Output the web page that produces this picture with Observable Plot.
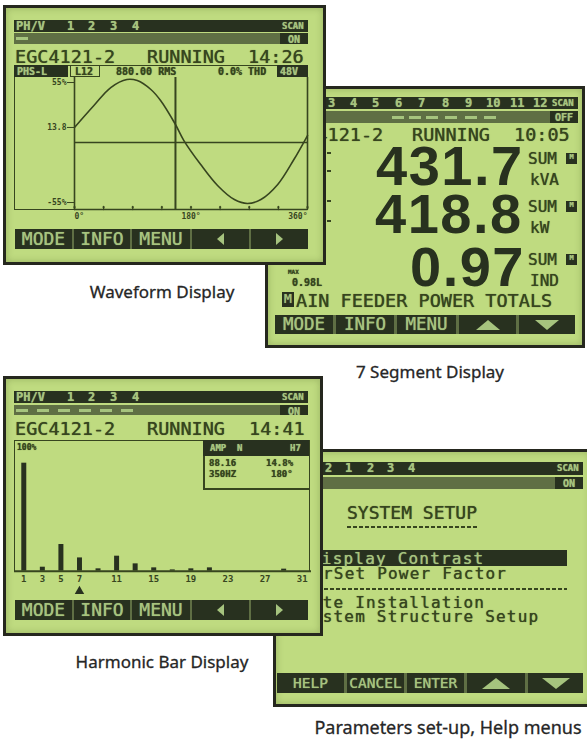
<!DOCTYPE html>
<html><head><meta charset="utf-8">
<script src="https://cdn.jsdelivr.net/npm/d3@7"></script>
<script src="https://cdn.jsdelivr.net/npm/@observablehq/plot@0.6"></script>
<style>
html,body{margin:0;padding:0;background:#fff;}
#root{position:relative;width:587px;height:740px;overflow:hidden;background:#fff;}
.p{position:absolute;overflow:hidden;}
.cap{position:absolute;font-family:"Noto Sans",sans-serif;font-size:17px;color:#262626;white-space:nowrap;transform:translateX(-50%);line-height:1;-webkit-text-stroke:0.3px #262626;}
</style></head><body><div id="root"></div>
<script>
// ---------- data ----------
const waveDeg = [0, 30, 56, 81, 97, 118, 133, 156, 169, 195, 221, 247, 267, 288, 314, 339, 360];
const waveVal = [13.8, 33.9, 50.4, 57.8, 56.8, 48.6, 38.5, 16.5, 1.8, -20.2, -39.4, -52.3, -55.9, -52.3, -38.5, -15.6, 6.4];
const waveYDomain = [-61.4, 59.6];
const waveYTicks = [55, 13.8, -55];
const waveYLabels = ["55%", "13.8", "-55%"];
const waveXTicks = [0, 45, 90, 135, 180, 225, 270, 315, 360];
const waveXLabelTicks = [0, 180, 360];
const waveCursor = 156;

const harmOrder = [1, 3, 5, 7, 9, 11, 13, 15, 17, 19, 21, 23, 25, 27, 29, 31];
const harmPct   = [100, 3.7, 24.7, 12.3, 2.2, 13.9, 6.8, 3.1, 1.2, 2.2, 3.1, 0, 0, 0, 1.9, 0];
const harmDomainX = [0, 32];
const harmDomainY = [0, 121];
const harmTicks = [1, 3, 5, 7, 11, 15, 19, 23, 27, 31];
const harmCursor = 7;

const segValues = ["431.7", "418.8", "0.97"];
const segUnits = ["kVA", "kW", "IND"];
const btnMain = ["MODE", "INFO", "MENU", "◀", "▶"];
const btnSeg = ["MODE", "INFO", "MENU", "▲", "▼"];
const btnSetup = ["HELP", "CANCEL", "ENTER", "▲", "▼"];
const setupItems = ["Display Contrast", "rSet Power Factor", "Site Installation", "System Structure Setup"];
const captions = ["Waveform Display", "7 Segment Display", "Harmonic Bar Display", "Parameters set-up, Help menus"];

// ---------- style ----------
const LCD = "#bfdb80", INK = "#37451f", DARK = "#28311f", MID = "#5f6f44", LITE = "#a6c47e", EDGE = "#25271e";
const MONO = '"DejaVu Sans Mono", monospace';
const root = document.getElementById("root");

function panel(x, y, w, h) {
  const d = document.createElement("div");
  d.className = "p";
  d.style.cssText += `left:${x}px;top:${y}px;width:${w}px;height:${h}px;background:${LCD};box-shadow:inset 0 0 0 3px ${EDGE}, inset 0 0 6px 4px rgba(70,90,30,0.25);`;
  root.appendChild(d); d._x = x; d._y = y; return d;
}
function mk(p, x, y, css) {
  const d = document.createElement("div");
  d.style.cssText = `position:absolute;left:${x - p._x}px;top:${y - p._y}px;` + css;
  p.appendChild(d); return d;
}
function rect(p, x, y, w, h, bg, css = "") { return mk(p, x, y, `width:${w}px;height:${h}px;background:${bg};` + css); }
// text placed by its cap-top (line-height 0.75 puts the cap top at the box top)
function txt(p, x, cap, s, size, color, css = "") {
  const d = mk(p, x, cap, `font-family:${MONO};font-size:${size}px;line-height:0.75;color:${color};white-space:pre;text-shadow:0 0 0.8px ${color};` + css);
  d.textContent = s; return d;
}
function ctxt(p, x, w, cap, s, size, color, css = "") { return txt(p, x, cap, s, size, color, `width:${w}px;text-align:center;` + css); }
function tri(p, cx, cy, dir, bw, bh, color) {
  let css = "width:0;height:0;";
  if (dir === "up") css += `border-left:${bw/2}px solid transparent;border-right:${bw/2}px solid transparent;border-bottom:${bh}px solid ${color};`;
  if (dir === "down") css += `border-left:${bw/2}px solid transparent;border-right:${bw/2}px solid transparent;border-top:${bh}px solid ${color};`;
  if (dir === "left") css += `border-top:${bh/2}px solid transparent;border-bottom:${bh/2}px solid transparent;border-right:${bw}px solid ${color};`;
  if (dir === "right") css += `border-top:${bh/2}px solid transparent;border-bottom:${bh/2}px solid transparent;border-left:${bw}px solid ${color};`;
  return mk(p, cx - bw/2, cy - bh/2, css);
}
function buttons(p, cells, y, h, labels, size, triW, triH) {
  rect(p, cells[0][0], y, cells[cells.length-1][1] - cells[0][0], h, MID);
  cells.forEach(([a, b], i) => {
    rect(p, a, y, b - a, h, DARK);
    const L = labels[i], cx = (a + b) / 2, cy = y + h / 2;
    if (L === "◀") tri(p, cx, cy, "left", triW, triH, LITE);
    else if (L === "▶") tri(p, cx, cy, "right", triW, triH, LITE);
    else if (L === "▲") tri(p, cx, cy, "up", triW, triH, LITE);
    else if (L === "▼") tri(p, cx, cy, "down", triW, triH, LITE);
    else ctxt(p, a, b - a, y + (h - size * 0.73) / 2, L, size, LITE);
  });
}
function dashLine(p, x, y, w) {
  rect(p, x, y, w, 2, "transparent", `background:repeating-linear-gradient(90deg, ${INK} 0 4px, transparent 4px 6px);`);
}
function statusBar(p, x0, x1, r1, r2, nums, scan, on, dashes) {
  rect(p, x0, r1[0], x1 - x0, r1[1] - r1[0], DARK);
  rect(p, x0, r2[0], x1 - x0, r2[1] - r2[0], MID);
  nums.forEach(([nx, s]) => txt(p, nx, r1[0] + 2, s, 12, LITE, "font-weight:bold;"));
  txt(p, x1 - 26, r1[0] + 3, scan, 9, LITE, "font-weight:bold;");
  rect(p, x1 - 28, r2[0], 28, r2[1] - r2[0], DARK);
  ctxt(p, x1 - 28, 28, r2[0] + 2.5, on, 10, LITE, "font-weight:bold;");
  dashes.forEach(([dx, dw]) => rect(p, dx, r2[0] + (r2[1] - r2[0]) / 2 - 1.5, dw, 3, LITE));
}

// ---------- Panel 2: 7 segment (behind panel 1) ----------
const P2 = panel(265, 86, 320, 262);
statusBar(P2, 268, 578, [97, 109], [111, 123],
  [[270, "V"], [282, "1"], [305, "2"], [328, "3"], [350, "4"], [372, "5"], [395, "6"], [418, "7"], [442, "8"], [465, "9"], [486, "10"], [510, "11"], [533, "12"]],
  "SCAN", "OFF", [[392, 12], [409, 12], [426, 12], [445, 12], [465, 12], [484, 12]]);
txt(P2, 283, 128, "EGC4121-2", 18.5, INK);
txt(P2, 412, 128, "RUNNING", 18.5, INK);
txt(P2, 514, 128, "10:05", 18.5, INK);
[152, 170, 200, 220].forEach(yy => rect(P2, 327, yy, 4, 2, INK));
const segTops = [145, 193, 246];
const segLefts = [376, 375, 410];
segValues.forEach((v, i) => {
  const d = mk(P2, segLefts[i], segTops[i], `font-family:"Liberation Sans",Arial,sans-serif;font-weight:bold;font-size:56px;line-height:0.75;color:${DARK};letter-spacing:1.5px;white-space:pre;`);
  d.textContent = v;
  txt(P2, 528, segTops[i] + 8, "SUM", 16, INK);
  rect(P2, 566, segTops[i] + 8, 11, 11, DARK);
  ctxt(P2, 566, 11, segTops[i] + 10, "M", 7, LITE, "font-weight:bold;");
  txt(P2, 530, segTops[i] + 29, segUnits[i], 16, INK);
});
txt(P2, 288, 270, "MAX", 6, INK, "font-weight:bold;");
txt(P2, 292, 279, "0.98L", 10, INK, "font-weight:bold;");
rect(P2, 282, 292, 12, 15, DARK);
ctxt(P2, 282, 12, 294, "M", 13, LITE);
txt(P2, 296, 294, "AIN FEEDER POWER TOTALS", 18.5, INK);
buttons(P2, [[275, 333], [336, 394], [397, 456], [459, 516], [519, 575]], 315, 19, btnSeg, 17.5, 24, 10);

// ---------- Panel 1: waveform ----------
const P1 = panel(3, 5, 323, 260);
statusBar(P1, 14, 308, [20, 32], [33, 44],
  [[16, "PH/V"], [67, "1"], [88, "2"], [110, "3"], [132, "4"]], "SCAN", "ON", [[16, 12]]);
txt(P1, 15, 50, "EGC4121-2", 18.5, INK);
txt(P1, 147, 50, "RUNNING", 18.5, INK);
txt(P1, 248, 50, "14:26", 18.5, INK);
rect(P1, 14, 65, 294, 145, "transparent", `box-sizing:border-box;border:1.5px solid ${INK};`);
rect(P1, 14, 65, 54, 12, DARK);
txt(P1, 17, 67.5, "PHS-L", 10, LITE, "font-weight:bold;");
rect(P1, 70, 65, 30, 12, "transparent", `box-sizing:border-box;border:1.5px solid ${INK};`);
txt(P1, 75, 67.5, "L12", 10, INK, "font-weight:bold;");
txt(P1, 116, 67.5, "880.00 RMS", 10, INK, "font-weight:bold;");
txt(P1, 218, 67.5, "0.0% THD", 10, INK, "font-weight:bold;");
rect(P1, 277, 65, 31, 12, DARK);
txt(P1, 280, 67.5, "48V", 10, LITE, "font-weight:bold;");

const wave = waveDeg.map((d, i) => ({deg: d, v: waveVal[i]}));
const yLab = new Map(waveYTicks.map((t, i) => [t, waveYLabels[i]]));
const wavePlot = Plot.plot({
  width: 296, height: 149,
  marginLeft: 60, marginRight: 3, marginTop: 0, marginBottom: 17,
  x: {domain: [0, 360], label: null},
  y: {domain: waveYDomain, label: null},
  style: {background: "transparent", color: INK, fontFamily: MONO, fontSize: "8px", fontWeight: "bold", overflow: "visible"},
  marks: [
    Plot.ruleY([0], {stroke: INK, strokeWidth: 1.3}),
    Plot.ruleY([waveYDomain[0]], {stroke: INK, strokeWidth: 1.5}),
    Plot.ruleX([0, 360], {stroke: INK, strokeWidth: 1.6}),
    Plot.ruleX([waveCursor], {stroke: INK, strokeWidth: 2}),
    Plot.vector(waveXTicks, {x: d => d, y: waveYDomain[0], length: 3, rotate: 0, anchor: "start", stroke: INK, strokeWidth: 1.3}),
    Plot.axisY(waveYTicks, {anchor: "left", label: null, tickSize: 7, tickPadding: 1, tickFormat: d => yLab.get(d), stroke: INK, fill: INK}),
    Plot.axisX([waveXLabelTicks[0]], {anchor: "bottom", label: null, tickSize: 0, tickPadding: 4, textAnchor: "start", tickFormat: d => d + "°", fill: INK}),
    Plot.axisX([waveXLabelTicks[1]], {anchor: "bottom", label: null, tickSize: 0, tickPadding: 4, textAnchor: "middle", tickFormat: d => d + "°", fill: INK}),
    Plot.axisX([waveXLabelTicks[2]], {anchor: "bottom", label: null, tickSize: 0, tickPadding: 4, textAnchor: "end", tickFormat: d => d + "°", fill: INK}),
    Plot.line(wave, {x: "deg", y: "v", curve: "catmull-rom", stroke: INK, strokeWidth: 1.6})
  ]
});
const w1 = mk(P1, 14, 77, "width:296px;height:149px;");
w1.appendChild(wavePlot);
buttons(P1, [[15, 72], [74, 130], [132, 190], [192, 249], [251, 308]], 229, 20, btnMain, 18, 7, 12);

// ---------- Panel 4: setup (behind panel 3) ----------
const P4 = panel(273, 449, 320, 258);
statusBar(P4, 277, 583, [462, 475], [477, 489],
  [[303, "V"], [325, "2"], [345, "1"], [367, "2"], [387, "3"], [408, "4"]], "SCAN", "ON", []);
txt(P4, 347, 506, "SYSTEM SETUP", 18, INK);
dashLine(P4, 347, 526, 131);
rect(P4, 300, 550, 267, 16, DARK);
const MENU_CSS = "letter-spacing:1.2px;";
txt(P4, 311, 553, setupItems[0], 16, LITE, MENU_CSS);
txt(P4, 323, 568, setupItems[1], 16, INK, MENU_CSS);
dashLine(P4, 300, 588, 267);
txt(P4, 301, 597, setupItems[2], 16, INK, MENU_CSS);
txt(P4, 301, 611, setupItems[3], 16, INK, MENU_CSS);
buttons(P4, [[277, 344], [347, 404], [407, 464], [467, 525], [528, 583]], 673, 20, btnSetup, 14.5, 28, 11);

// ---------- Panel 3: harmonic bars ----------
const P3 = panel(3, 376, 320, 260);
statusBar(P3, 14, 308, [391, 403], [405, 415],
  [[16, "PH/V"], [67, "1"], [88, "2"], [110, "3"], [132, "4"]], "SCAN", "ON",
  [[16, 12], [37, 12], [58, 12], [79, 12], [100, 12], [121, 12]]);
txt(P3, 15, 422, "EGC4121-2", 18.5, INK);
txt(P3, 147, 422, "RUNNING", 18.5, INK);
txt(P3, 249, 422, "14:41", 18.5, INK);
rect(P3, 14, 440, 296, 132, "transparent", `box-sizing:border-box;border:1.5px solid ${INK};border-bottom:none;`);
txt(P3, 17, 445, "100%", 8, INK, "font-weight:bold;");
rect(P3, 203, 440, 106, 50, "transparent", `box-sizing:border-box;border:2px solid ${INK};border-top:none;border-right:none;`);
rect(P3, 203, 440, 106, 16, DARK);
txt(P3, 210, 445, "AMP  N", 9, LITE, "font-weight:bold;");
txt(P3, 290, 445, "H7", 9, LITE, "font-weight:bold;");
txt(P3, 209, 460, "88.16", 9, INK, "font-weight:bold;");
txt(P3, 266, 460, "14.8%", 9, INK, "font-weight:bold;");
txt(P3, 209, 471, "350HZ", 9, INK, "font-weight:bold;");
txt(P3, 271, 471, "180°", 9, INK, "font-weight:bold;");

const harm = harmOrder.map((h, i) => ({h, v: harmPct[i]})).filter(d => d.v > 0);
const harmPlot = Plot.plot({
  width: 297, height: 160,
  marginLeft: 0, marginRight: 0, marginTop: 0, marginBottom: 29.3,
  x: {domain: harmDomainX, label: null},
  y: {domain: harmDomainY, label: null, axis: null},
  style: {background: "transparent", color: INK, fontFamily: MONO, fontSize: "9px", fontWeight: "bold", overflow: "visible"},
  marks: [
    Plot.ruleX(harm, {x: "h", y1: 0, y2: "v", stroke: DARK, strokeWidth: 5}),
    Plot.ruleY([0], {stroke: INK, strokeWidth: 2}),
    Plot.axisX(harmTicks, {anchor: "bottom", label: null, tickSize: 0, tickPadding: 4, fill: INK}),
    Plot.dot([harmCursor], {x: d => d, y: 0, dy: 20, symbol: "triangle", r: 3.5, fill: DARK, stroke: "none"})
  ]
});
const w3 = mk(P3, 14, 440, "width:297px;height:160px;");
w3.appendChild(harmPlot);
buttons(P3, [[15, 72], [74, 130], [132, 190], [192, 249], [251, 308]], 600, 20, btnMain, 18, 7, 12);

// ---------- captions ----------
const capPos = [[162, 283], [430, 363], [162, 653], [448, 718]];
const capSize = [17, 17, 17, 18];
captions.forEach((c, i) => {
  const d = document.createElement("div");
  d.className = "cap";
  d.style.left = capPos[i][0] + "px";
  d.style.top = capPos[i][1] + "px";
  d.style.fontSize = capSize[i] + "px";
  d.textContent = c;
  root.appendChild(d);
});
</script></body></html>
